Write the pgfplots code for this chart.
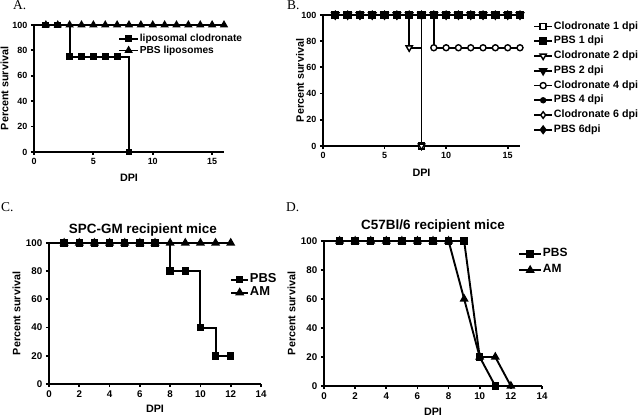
\documentclass[border=0pt]{standalone}
\usepackage{fontspec}
\setmainfont{Liberation Sans}
\newfontfamily\timesf{Liberation Serif}
\usepackage{pgfplots}
\pgfplotsset{compat=1.18}
\pgfplotsset{
  pl/.style={black, line width=1.9bp},
  gp/.style={
    scale only axis, clip=false,
    axis x line*=bottom, axis y line*=left,
    axis line style={-, line width=2.3bp},
    x axis line style={line width=2.3bp}, y axis line style={line width=2.3bp},
    tick align=outside, major tick length=3.2bp,
    tick style={black, line width=1.8bp},
    ymin=0, ymax=100, ytick={0,20,...,100},
    /pgf/number format/assume math mode=true,
    label style={font=\bfseries\fontsize{10.8}{12}\selectfont},
    legend cell align=left,
    legend style={draw=none, fill=none, inner sep=0pt, anchor=north west,
      nodes={inner sep=0.8bp, text height=0.75em, text depth=0.22em}},
    ylabel={Percent survival}, xlabel={DPI},
  },
}
\begin{document}
\begin{tikzpicture}
\fill[white] (0,0) rectangle (640bp,418bp);
% ---------------- A
\begin{axis}[gp, at={(34bp,266bp)}, anchor=south west, width=190bp, height=127bp,
  xmin=0, xmax=16, xtick={0,5,10,15},
  tick label style={font=\bfseries\fontsize{9}{10}\selectfont},
  xlabel style={at={(axis description cs:0.5,-0.205)}, anchor=center},
  ylabel style={at={(axis description cs:-0.155,0.5)}, anchor=center},
  reverse legend,
  legend style={at={(0.442,0.938)}, font=\bfseries\fontsize{10.2}{11}\selectfont, row sep=0.5bp},
  legend image code/.code={\draw[mark repeat=2,mark phase=2,#1] plot coordinates {(0bp,0bp)(9.5bp,0bp)(19bp,0bp)};}]
\addplot[pl, forget plot] coordinates {(0,100)(1,100)};
\addplot[pl, mark=triangle*, mark size=3bp] coordinates {(1,100)(2,100)(3,100)(4,100)(5,100)(6,100)(7,100)(8,100)(9,100)(10,100)(11,100)(12,100)(13,100)(14,100)(15,100)(16,100)};
\addlegendentry{PBS liposomes}
\addplot[pl, const plot, mark=square*, mark size=2.5bp] coordinates {(1,100)(2,100)(3,75)(4,75)(5,75)(6,75)(7,75)(8,0)};
\addlegendentry{liposomal clodronate}
\end{axis}
% ---------------- B
\begin{axis}[gp, at={(323bp,272bp)}, anchor=south west, width=197bp, height=131bp,
  xmin=0, xmax=16, xtick={0,5,10,15},
  tick label style={font=\bfseries\fontsize{9}{10}\selectfont},
  xlabel style={at={(axis description cs:0.5,-0.206)}, anchor=center},
  ylabel style={at={(axis description cs:-0.117,0.5)}, anchor=center},
  legend style={at={(1.066,0.957)}, font=\bfseries\fontsize{10.7}{12}\selectfont, row sep=3.5bp},
  legend image code/.code={\draw[mark repeat=2,mark phase=2,#1] plot coordinates {(0bp,0bp)(9bp,0bp)(18bp,0bp)};}]
\addplot[pl, forget plot] coordinates {(0,100)(1,100)};
\addplot[pl, const plot, mark=square*, mark options={fill=white, line width=1.4bp}, mark size=3bp] coordinates {(1,100)(2,100)(3,100)(4,100)(5,100)(6,100)(7,100)(8,0)};
\addlegendentry{Clodronate 1 dpi}
\addplot[pl, mark=square*, mark size=3.2bp] coordinates {(1,100)(2,100)(3,100)(4,100)(5,100)(6,100)(7,100)(8,100)(9,100)(10,100)(11,100)(12,100)(13,100)(14,100)(15,100)(16,100)};
\addlegendentry{PBS 1 dpi}
\addplot[pl, const plot, mark=triangle*, mark options={fill=white, rotate=180, line width=1.4bp}, mark size=3.6bp] coordinates {(1,100)(2,100)(3,100)(4,100)(5,100)(6,100)(7,75)(8,0)};
\addlegendentry{Clodronate 2 dpi}
\addplot[pl, mark=triangle*, mark options={rotate=180}, mark size=3.6bp] coordinates {(1,100)(2,100)(3,100)(4,100)(5,100)(6,100)(7,100)(8,100)(9,100)(10,100)(11,100)(12,100)(13,100)(14,100)(15,100)(16,100)};
\addlegendentry{PBS 2 dpi}
\addplot[pl, const plot, mark=*, mark options={fill=white, line width=1.4bp}, mark size=3bp] coordinates {(1,100)(2,100)(3,100)(4,100)(5,100)(6,100)(7,100)(8,100)(9,75)(10,75)(11,75)(12,75)(13,75)(14,75)(15,75)(16,75)};
\addlegendentry{Clodronate 4 dpi}
\addplot[pl, mark=*, mark size=2.2bp] coordinates {(1,100)(2,100)(3,100)(4,100)(5,100)(6,100)(7,100)(8,100)(9,100)(10,100)(11,100)(12,100)(13,100)(14,100)(15,100)(16,100)};
\addlegendentry{PBS 4 dpi}
\addplot[pl, mark=diamond*, mark options={fill=white, line width=1.4bp}, mark size=3.3bp] coordinates {(1,100)(2,100)(3,100)(4,100)(5,100)(6,100)(7,100)(8,100)(9,100)(10,100)(11,100)(12,100)(13,100)(14,100)(15,100)(16,100)};
\addlegendentry{Clodronate 6 dpi}
\addplot[pl, mark=diamond*, mark size=3.3bp] coordinates {(1,100)(2,100)(3,100)(4,100)(5,100)(6,100)(7,100)(8,100)(9,100)(10,100)(11,100)(12,100)(13,100)(14,100)(15,100)(16,100)};
\addlegendentry{PBS 6dpi}
\addplot[pl, forget plot, only marks, mark=square*, mark size=3.2bp] coordinates {(1,100)(2,100)(3,100)(4,100)(5,100)(6,100)(7,100)(8,100)(9,100)(10,100)(11,100)(12,100)(13,100)(14,100)(15,100)(16,100)};
\end{axis}
% ---------------- C
\begin{axis}[gp, at={(49bp,34bp)}, anchor=south west, width=212bp, height=141bp,
  xmin=0, xmax=14, xtick={0,2,...,14},
  tick label style={font=\bfseries\fontsize{9.8}{10}\selectfont},
  xlabel style={at={(axis description cs:0.5,-0.177)}, anchor=center},
  ylabel style={at={(axis description cs:-0.153,0.5)}, anchor=center},
  title={SPC-GM recipient mice},
  title style={at={(axis description cs:0.443,1.047)}, anchor=center, font=\bfseries\fontsize{13.5}{15}\selectfont},
  reverse legend,
  legend style={at={(0.854,0.782)}, font=\bfseries\fontsize{13}{14}\selectfont, row sep=1.8bp},
  legend image code/.code={\draw[mark repeat=2,mark phase=2,#1] plot coordinates {(0bp,0bp)(8.5bp,0bp)(17bp,0bp)};}]
\addplot[pl, forget plot] coordinates {(0,100)(1,100)};
\addplot[pl, mark=triangle*, mark size=3.4bp] coordinates {(1,100)(2,100)(3,100)(4,100)(5,100)(6,100)(7,100)(8,100)(9,100)(10,100)(11,100)(12,100)};
\addlegendentry{AM}
\addplot[pl, const plot, mark=square*, mark size=2.8bp] coordinates {(1,100)(2,100)(3,100)(4,100)(5,100)(6,100)(7,100)(8,80)(9,80)(10,40)(11,20)(12,20)};
\addlegendentry{PBS}
\end{axis}
% ---------------- D
\begin{axis}[gp, at={(324bp,32bp)}, anchor=south west, width=218bp, height=145bp,
  xmin=0, xmax=14, xtick={0,2,...,14},
  tick label style={font=\bfseries\fontsize{9.8}{10}\selectfont},
  xlabel style={at={(axis description cs:0.5,-0.179)}, anchor=center},
  ylabel style={at={(axis description cs:-0.149,0.5)}, anchor=center},
  title={C57Bl/6 recipient mice},
  title style={at={(axis description cs:0.5,1.065)}, anchor=center, font=\bfseries\fontsize{13.5}{15}\selectfont},
  reverse legend,
  legend style={at={(0.89,0.950)}, font=\bfseries\fontsize{12}{13}\selectfont, row sep=4.8bp},
  legend image code/.code={\draw[mark repeat=2,mark phase=2,#1] plot coordinates {(0bp,0bp)(11bp,0bp)(22bp,0bp)};}]
\addplot[pl, forget plot] coordinates {(0,100)(1,100)};
\addplot[pl, mark=triangle*, mark size=3.4bp] coordinates {(1,100)(2,100)(3,100)(4,100)(5,100)(6,100)(7,100)(8,100)(9,60)(10,20)(11,20)(12,0)};
\addlegendentry{AM}
\addplot[pl, mark=square*, mark size=2.8bp] coordinates {(1,100)(2,100)(3,100)(4,100)(5,100)(6,100)(7,100)(8,100)(9,100)(10,20)(11,0)};
\addlegendentry{PBS}
\end{axis}
% panel letters
\node[anchor=base west, inner sep=0pt, font=\timesf\fontsize{13.5}{14}\selectfont] at (13bp,408bp) {A.};
\node[anchor=base west, inner sep=0pt, font=\timesf\fontsize{13.5}{14}\selectfont] at (287bp,408bp) {B.};
\node[anchor=base west, inner sep=0pt, font=\timesf\fontsize{13.5}{14}\selectfont] at (1bp,206bp) {C.};
\node[anchor=base west, inner sep=0pt, font=\timesf\fontsize{13.5}{14}\selectfont] at (286bp,206bp) {D.};
\pgfresetboundingbox
\useasboundingbox (0,0) rectangle (640bp,418bp);
\end{tikzpicture}
\end{document}
